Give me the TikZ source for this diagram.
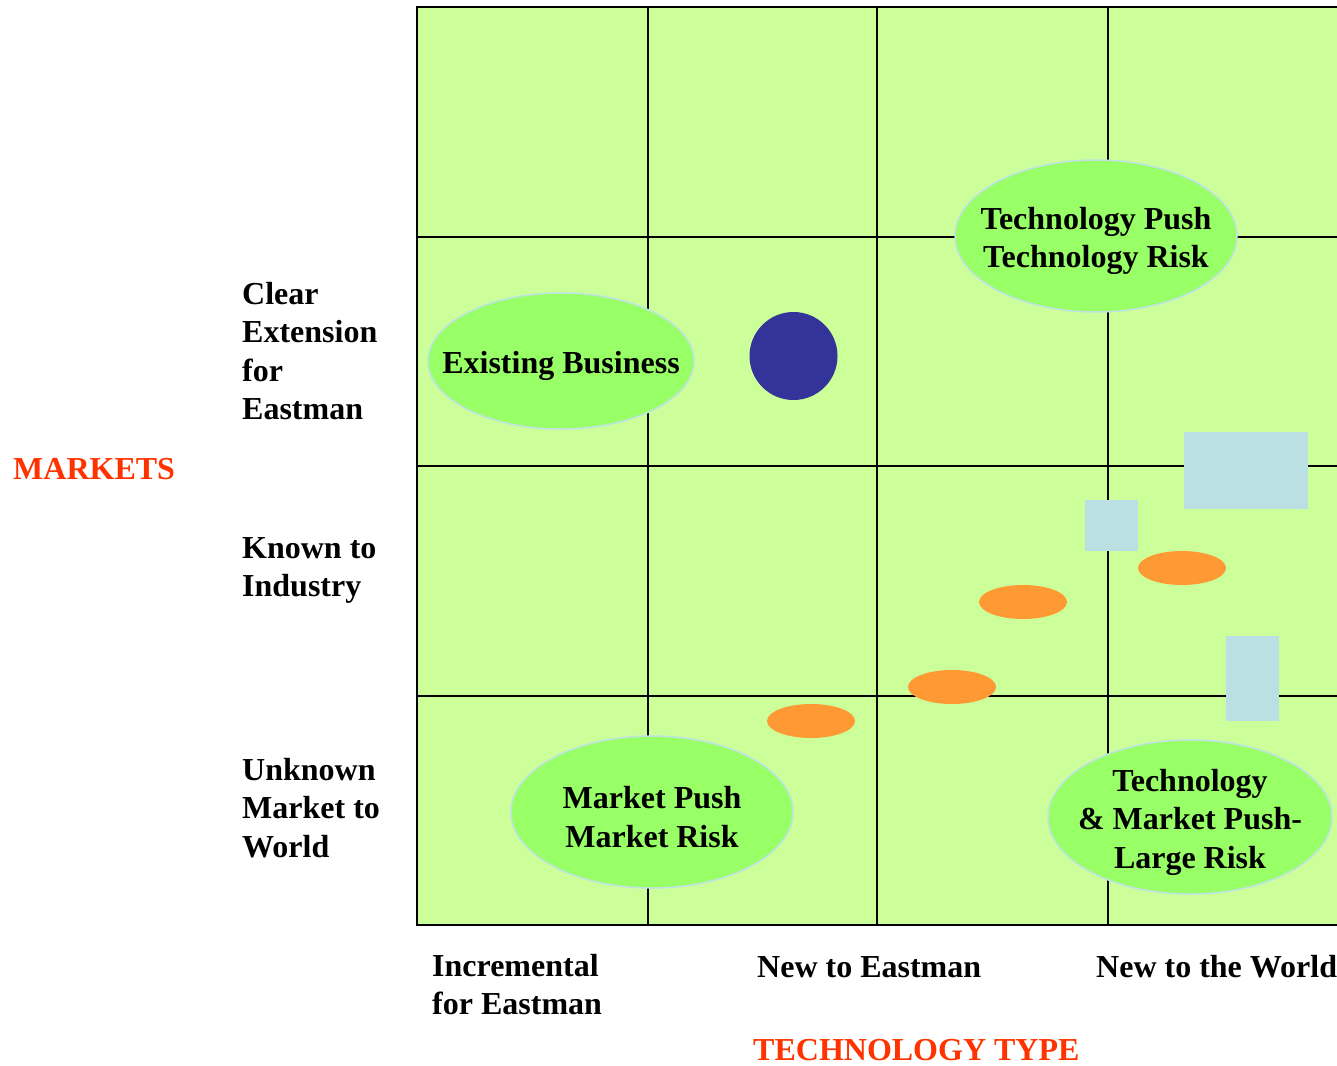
\documentclass[tikz,border=0pt]{standalone}
\usepackage{fontspec}
\setmainfont{Liberation Serif}
\usetikzlibrary{shapes.geometric}
\definecolor{cellgreen}{HTML}{CCFF99}
\definecolor{ovalgreen}{HTML}{99FF66}
\definecolor{ovalrim}{HTML}{BFE3E3}
\definecolor{paleblue}{HTML}{BBE0E3}
\definecolor{blobor}{HTML}{FF9933}
\definecolor{navy}{HTML}{333399}
\definecolor{axisred}{HTML}{FF3300}
\tikzset{
  txt/.style={font=\fontsize{32}{38.5}\selectfont\bfseries, inner sep=0pt},
  axislab/.style={txt, text=axisred},
  sidelab/.style={txt, align=left, anchor=north west},
  zone/.style={ellipse, fill=ovalgreen, draw=ovalrim, line width=1.5pt, inner sep=0pt},
  zonetext/.style={txt, align=center, yshift=-5pt},
  blob/.style={ellipse, fill=blobor, inner sep=0pt, minimum width=88pt, minimum height=34pt},
  patch/.style={rectangle, fill=paleblue, inner sep=0pt},
  gridline/.style={line width=2pt, black}
}
\begin{document}
\begin{tikzpicture}[x=1pt,y=-1pt]
\useasboundingbox (0,0) rectangle (1337,1065);
% grid
\fill[cellgreen] (417,7) rectangle (1340,925);
\foreach \xx in {648,877,1108} \draw[gridline] (\xx,7) -- (\xx,925);
\foreach \yy in {237,466,696} \draw[gridline] (417,\yy) -- (1340,\yy);
\draw[gridline] (1340,7) -- (417,7) -- (417,925) -- (1340,925);
% zones
\node[zone, minimum width=266pt, minimum height=136pt,
  label={[zonetext]center:Existing Business}] (existing) at (561,361) {};
\node[zone, minimum width=282pt, minimum height=152pt,
  label={[zonetext]center:Technology Push\\Technology Risk}] (techpush) at (1096,236) {};
\node[zone, minimum width=282pt, minimum height=152pt,
  label={[zonetext]center:Market Push\\Market Risk}] (mktpush) at (652,812) {};
\node[zone, minimum width=284pt, minimum height=154pt,
  label={[zonetext]center:Technology\\\& Market Push-\\Large Risk}] (bothpush) at (1190,817) {};
% dot
\node[circle, fill=navy, inner sep=0pt, minimum size=88pt] (dot) at (793.5,356) {};
% orange blobs
\node[blob] (b1) at (811,721) {};
\node[blob] (b2) at (952,687) {};
\node[blob] (b3) at (1023,602) {};
\node[blob] (b4) at (1182,568) {};
% pale blue patches
\node[patch, minimum width=124pt, minimum height=77pt] (p1) at (1246,470.5) {};
\node[patch, minimum width=53pt, minimum height=51pt] (p2) at (1111.5,525.5) {};
\node[patch, minimum width=53pt, minimum height=85pt] (p3) at (1252.5,678.5) {};
% side labels
\node[sidelab] (clear) at (242,282) {Clear\\Extension\\for\\Eastman};
\node[sidelab] (known) at (242,537) {Known to\\Industry};
\node[sidelab] (unknown) at (242,758) {Unknown\\Market to\\World};
\node[axislab, anchor=base west] (markets) at (13,479) {MARKETS};
% bottom labels
\node[sidelab] (incr) at (432,954) {Incremental\\for Eastman};
\node[txt, anchor=base west] (newe) at (757,977) {New to Eastman};
\node[txt, anchor=base west] (neww) at (1096,977) {New to the World};
\node[axislab, anchor=base west] (techtype) at (753,1060) {TECHNOLOGY TYPE};
\end{tikzpicture}
\end{document}
